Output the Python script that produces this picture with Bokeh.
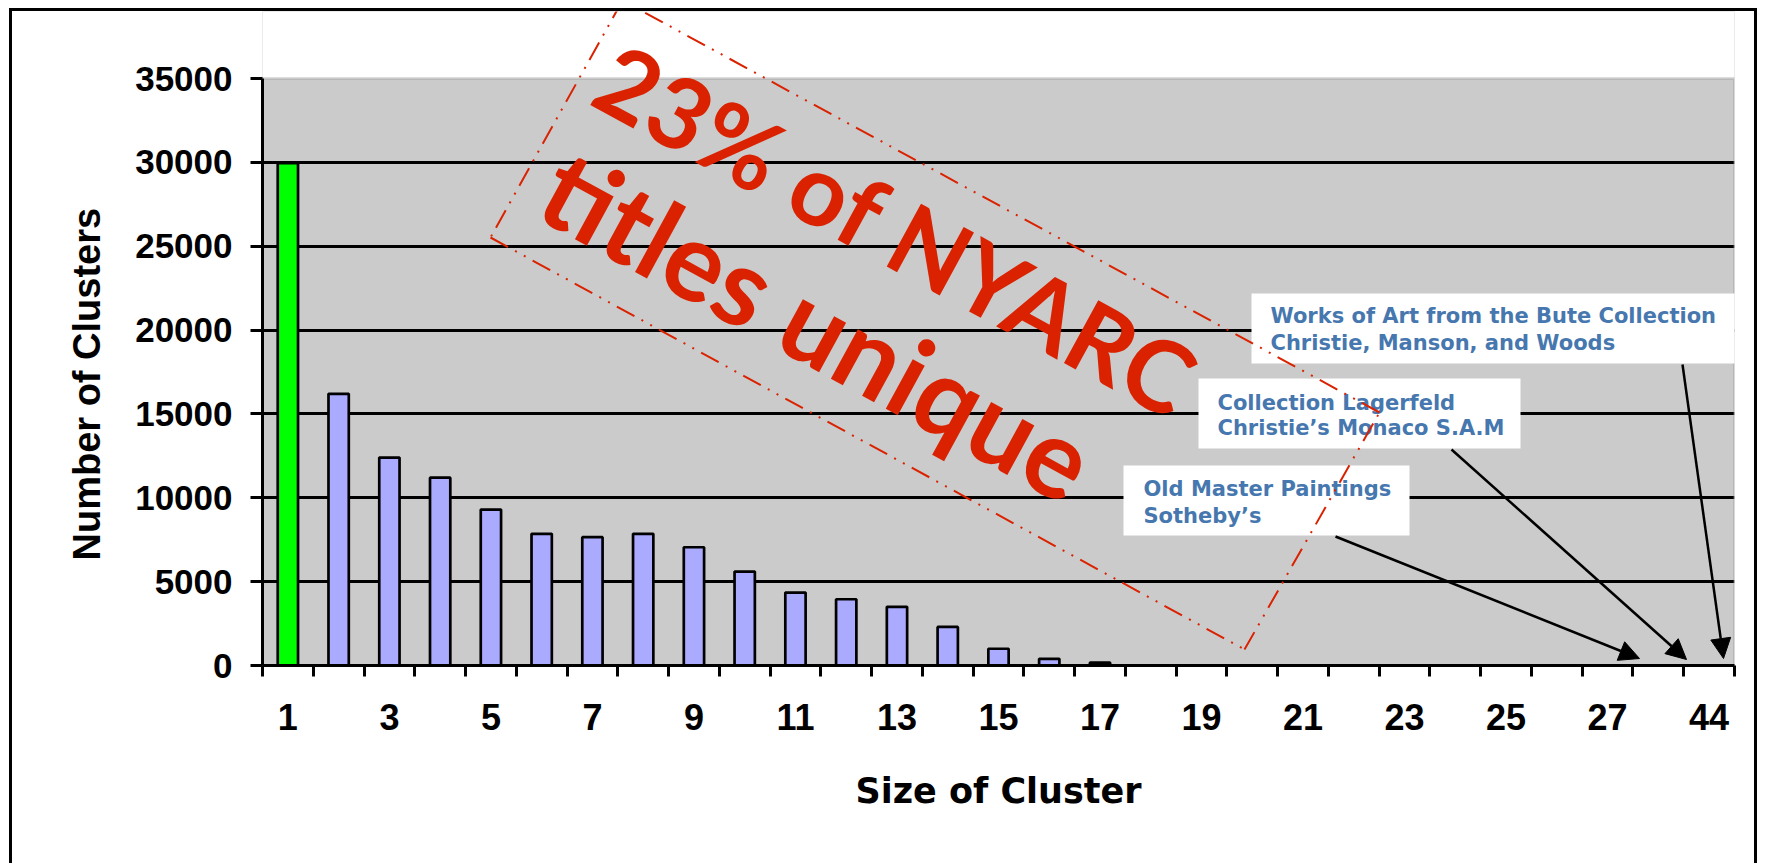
from bokeh.plotting import figure
from bokeh.models import (Range1d, FixedTicker, Label, Arrow, NormalHead,
                          BoxAnnotation, ColumnDataSource, Title)
from bokeh.embed import file_html
from bokeh.resources import INLINE

# ---------------- data ----------------
cluster_sizes = ["1", "2", "3", "4", "5", "6", "7", "8", "9", "10",
                 "11", "12", "13", "14", "15", "16", "17", "18", "19", "20",
                 "21", "22", "23", "24", "25", "26", "27", "28", "44"]
cluster_counts = [29950, 16200, 12400, 11200, 9300, 7850, 7650, 7850, 7050, 5600,
                  4350, 3950, 3500, 2300, 1000, 400, 170, 15, 10, 8,
                  6, 5, 4, 3, 2, 2, 1, 1, 1]
highlight_size = "1"
x_tick_labels = ["1", "3", "5", "7", "9", "11", "13", "15", "17", "19",
                 "21", "23", "25", "27", "44"]
y_ticks = [0, 5000, 10000, 15000, 20000, 25000, 30000, 35000]

x_title = "Size of Cluster"
y_title = "Number of Clusters"
stamp_lines = ["23% of NYARC", "titles unique"]
callout_texts = [
    ["Works of Art from the Bute Collection", "Christie, Manson, and Woods"],
    ["Collection Lagerfeld", "Christie\u2019s Monaco S.A.M"],
    ["Old Master Paintings", "Sotheby\u2019s"],
]

# ---------------- styling / layout ----------------
BAR_COLOR = "#AAAAFF"
HIGHLIGHT_COLOR = "#00FF00"
PLOT_BG = "#CBCBCB"
RED = "#DA2200"
BLUE_TEXT = "#4677AE"

W, H = 1748, 855
OX, OY = 12, 11                        # canvas origin on the page
FL, FR, FT, FB = 262, 1734, 78, 665    # plot-area edges in page px
YMAX = y_ticks[-1]
YTOP = YMAX * (FB - OY) / (FB - FT)    # frame reaches the top of the canvas
N = len(cluster_sizes)


def dx(px):
    return (px - FL) / (FR - FL) * N


def dy(py):
    return (FB - py) / (FB - FT) * YMAX


xs = [i + 0.5 for i in range(N)]
colors = [HIGHLIGHT_COLOR if s == highlight_size else BAR_COLOR for s in cluster_sizes]
src = ColumnDataSource(dict(x=xs, top=cluster_counts, color=colors, size=cluster_sizes))

p = figure(width=W, height=H, title=None,
           x_range=Range1d(0, N), y_range=Range1d(0, YTOP),
           output_backend="svg", toolbar_location=None,
           min_border_left=FL - OX, min_border_top=0,
           min_border_right=W - (FR - OX), min_border_bottom=H - (FB - OY),
           background_fill_color=PLOT_BG, border_fill_color="white")
p.styles = {"margin-left": "9px", "margin-top": "8px",
            "border-top": "3px solid black", "border-left": "3px solid black",
            "border-right": "3px solid black"}
p.outline_line_color = None

# white area above the plot region (frame extends up to canvas top)
p.add_layout(BoxAnnotation(bottom=YMAX, fill_color="white", fill_alpha=1.0,
                           line_alpha=0, level="underlay"))

# grid
p.xgrid.visible = False
p.ygrid.ticker = FixedTicker(ticks=y_ticks[1:-1])
p.ygrid.grid_line_color = "black"
p.ygrid.grid_line_width = 3

# gray plot-area border
p.add_layout(BoxAnnotation(bottom=0, top=YMAX, left=0, right=N, fill_alpha=0,
                           line_color="#8A8A8A", line_width=3, level="underlay"))

p.vbar(x="x", top="top", width=0.4, source=src, fill_color="color",
       line_color="black", line_width=2.7)

# x axis
label_pos = [xs[cluster_sizes.index(l)] for l in x_tick_labels]
xa = p.xaxis[0]
xa.ticker = FixedTicker(ticks=label_pos, minor_ticks=list(range(N + 1)))
xa.major_label_overrides = {pos: lbl for pos, lbl in zip(label_pos, x_tick_labels)}
xa.major_tick_out = 0
xa.major_tick_in = 0
xa.minor_tick_out = 11
xa.minor_tick_in = 0
xa.minor_tick_line_width = 3
xa.minor_tick_line_color = "black"
xa.axis_line_width = 3
xa.axis_line_color = "black"
xa.major_label_text_font = "Liberation Sans"
xa.major_label_text_font_style = "bold"
xa.major_label_text_font_size = "36px"
xa.major_label_text_color = "black"
xa.major_label_standoff = 27
xa.axis_label = x_title
xa.axis_label_text_font = "DejaVu Sans"
xa.axis_label_text_font_style = "bold"
xa.axis_label_text_font_size = "35px"
xa.axis_label_text_color = "black"
xa.axis_label_standoff = 38

# y axis
ya = p.yaxis[0]
ya.ticker = FixedTicker(ticks=y_ticks, minor_ticks=[])
ya.bounds = (0, YMAX)
ya.major_tick_out = 12
ya.major_tick_in = 0
ya.major_tick_line_width = 3
ya.major_tick_line_color = "black"
ya.minor_tick_out = 0
ya.minor_tick_in = 0
ya.axis_line_width = 3
ya.axis_line_color = "black"
ya.major_label_text_font = "Liberation Sans"
ya.major_label_text_font_style = "bold"
ya.major_label_text_font_size = "35px"
ya.major_label_text_color = "black"
ya.major_label_standoff = 18

# y title as a side-panel title, positioned along the plot area
p.add_layout(Title(text=y_title, align="left", vertical_align="bottom",
                   offset=105, standoff=49,
                   text_font="Liberation Sans", text_font_style="bold",
                   text_font_size="38px", text_color="black"), "left")

# callout boxes (page px: left, right, top, bottom)
box_px = [(1251, 1735, 293, 363), (1198, 1520, 378, 448), (1123, 1409, 465, 535)]
text_px = [(1270, 315, 342), (1217, 402, 427), (1143, 488, 515)]
arrow_px = [((1682, 364), (1723, 658)), ((1451, 449), (1686, 659)), ((1335, 536), (1639, 658))]

for (l, r, t, b) in box_px:
    p.add_layout(BoxAnnotation(left=dx(l), right=dx(r), top=dy(t), bottom=dy(b),
                               fill_color="white", fill_alpha=1.0, line_alpha=0))
for lines, (tx, y1, y2) in zip(callout_texts, text_px):
    for line, ty in zip(lines, (y1, y2)):
        p.add_layout(Label(x=dx(tx), y=dy(ty), text=line, text_font="DejaVu Sans",
                           text_font_style="bold", text_font_size="21px",
                           text_color=BLUE_TEXT, text_align="left",
                           text_baseline="middle"))
for (s, e) in arrow_px:
    p.add_layout(Arrow(x_start=dx(s[0]), y_start=dy(s[1]), x_end=dx(e[0]), y_end=dy(e[1]),
                       line_color="black", line_width=2.5,
                       end=NormalHead(size=20, fill_color="black", line_color="black")))

# dashed rotated frame around the stamp
corners = [(622, 0), (490, 237), (1244, 649), (1379, 412)]
for i in range(4):
    a, b = corners[i], corners[(i + 1) % 4]
    p.add_layout(Arrow(x_start=dx(a[0]), y_start=dy(a[1]), x_end=dx(b[0]), y_end=dy(b[1]),
                       end=None, line_color=RED, line_width=2, line_dash="20 8 2 8 2 8"))

# red stamp text
stamp_anchor_px = [(605, 69), (551, 177)]
stamp_sizes = ["99px", "110px"]
for line, (ax, ay), fs in zip(stamp_lines, stamp_anchor_px, stamp_sizes):
    p.add_layout(Label(x=dx(ax), y=dy(ay), text=line, angle=-0.499,
                       text_font="Lato", text_font_style="bold", text_font_size=fs,
                       text_color=RED, text_align="left",
                       text_baseline="alphabetic"))

open("out.html", "w").write(file_html(p, INLINE))
